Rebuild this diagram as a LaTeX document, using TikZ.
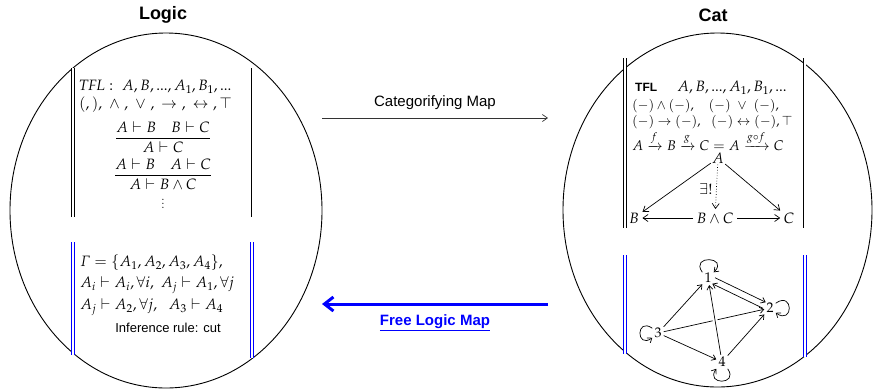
\documentclass[tikz,border=0pt]{standalone}
\usepackage{amsmath,amssymb}
\usepackage{mathpazo}
\usepackage[no-math]{fontspec}
\setsansfont{Liberation Sans}
\usetikzlibrary{positioning,arrows.meta,shapes.geometric}

\begin{document}
\begin{tikzpicture}[
  x=1pt, y=-1pt,
  font=\fontsize{15}{18}\selectfont,
  ttl/.style={font=\fontsize{18}{21}\selectfont\bfseries\sffamily, inner sep=1pt},
  lbl/.style={font=\fontsize{15}{18}\selectfont\sffamily, inner sep=1pt},
  row/.style={anchor=west, inner sep=0pt},
  sml/.style={font=\fontsize{13}{16}\selectfont},
  rim/.style={draw=black, line width=0.9pt, ellipse, inner sep=0pt},
  bar/.style={double, double distance=2pt, line width=0.7pt},
  bluebar/.style={bar, draw=blue},
  arr/.style={-{Straight Barb[length=5pt, width=7pt]}, line width=0.7pt},
  garr/.style={-{Straight Barb[length=4pt, width=6pt]}, line width=0.7pt},
  vtx/.style={font=\fontsize{14}{16}\selectfont, inner sep=2pt},
]
\useasboundingbox (0,0) rectangle (873,389);

%% ============ the two worlds ============
\node[rim, minimum width=312pt, minimum height=355pt] (lgc) at (166,210.5) {};
\node[rim, minimum width=309pt, minimum height=354pt] (cat) at (717.5,210) {};
\node[ttl] (tlgc) at (163,15) {Logic};
\node[ttl] (tcat) at (713,15) {Cat};

%% ============ Logic: language and rules ============
\draw[bar] (73,68) -- (73,217);
\draw[bar] (252.5,68) -- (252.5,217);
\node[row] (l1) at (79,87) {$\mathit{TFL}:\ A, B,..., A_1, B_1,...$};
\node[row, below=3pt of l1.south west, anchor=north west] (l2) {$(,),\ \wedge\ ,\ \vee\ ,\ \rightarrow\ ,\ \leftrightarrow\ ,\top$};
\node[inner sep=0pt] (l3) at (163,137) {$\dfrac{A\vdash B\quad B\vdash C}{A\vdash C}$};
\node[inner sep=0pt] (l4) at (163,174) {$\dfrac{A\vdash B\quad A\vdash C}{A\vdash B\wedge C}$};
\node[inner sep=0pt] (l5) at (163,201) {$\vdots$};

%% ============ Logic: a theory ============
\draw[bluebar] (73,242) -- (73,355);
\draw[bluebar] (252,242) -- (252,358);
\node[row] (g1) at (80,263) {$\varGamma = \{A_1, A_2, A_3, A_4\},$};
\node[row] (g2) at (80,285) {$A_i\vdash A_i, \forall i,\ A_j\vdash A_1, \forall j$};
\node[row] (g3) at (80,307) {$A_j\vdash A_2, \forall j,\ \ A_3\vdash A_4$};
\node[font=\fontsize{13}{15}\selectfont\sffamily] (g4) at (168,328) {Inference rule: cut};

%% ============ Cat: objects and arrows ============
\draw[bar] (625,58) -- (625,228);
\draw[bar] (804.5,58) -- (804.5,228);
\node[row] (c1) at (635,88) {{\fontsize{12}{14}\selectfont\sffamily\bfseries TFL}\hspace{20pt}$A, B,..., A_1, B_1,...$};
\node[row, sml] (c2) at (632,106) {$(-)\wedge(-),\ \ \ (-)\ \vee\ (-),$};
\node[row, sml] (c3) at (632,122) {$(-)\rightarrow(-),\ \ (-)\leftrightarrow(-),\top$};
\node[row, font=\fontsize{14}{16}\selectfont] (c4) at (632,141) {$A\xrightarrow{f}B\xrightarrow{g}C = A\xrightarrow{g\circ f}C$};
\node[inner sep=1pt] (da) at (718,158) {$A$};
\node (db) at (634,218) {$B$};
\node (dbc) at (715,218) {$B\wedge C$};
\node (dc) at (789,218) {$C$};
\draw[arr] (da) -- (db);
\draw[arr] (da) -- (dc);
\draw[arr] (dbc) -- (db);
\draw[arr] (dbc) -- (dc);
\draw[arr, dotted] (da) -- node[left=0pt, pos=0.55] {$\exists!$} (dbc);

%% ============ Cat: free category of the theory ============
\draw[bluebar] (625,255) -- (625,354);
\draw[bluebar] (805,255) -- (805,357);
\node[vtx] (n1) at (708,278) {$1$};
\node[vtx] (n2) at (770,308) {$2$};
\node[vtx] (n3) at (658,333) {$3$};
\node[vtx] (n4) at (722,362) {$4$};
\draw[garr] (n3) -- (n2);
\draw[garr, preaction={draw=white, line width=5pt}] (n4) -- (n1);
\draw[garr] (n3) -- (n1);
\draw[garr] (n3) -- (n4);
\draw[garr] (n4) -- (n2);
\draw[garr, transform canvas={xshift=1.4pt, yshift=3pt}] (n1) -- (n2);
\draw[garr, transform canvas={xshift=-1.4pt, yshift=-3pt}] (n2) -- (n1);
% self loops
\draw[garr] (n1.135) .. controls +(125:22pt) and +(45:22pt) .. (n1.45);
\draw[garr] (n2.40) .. controls +(35:22pt) and +(-35:22pt) .. (n2.-40);
\draw[garr] (n3.140) .. controls +(145:20pt) and +(215:20pt) .. (n3.220);
\draw[garr] (n4.-50) .. controls +(-55:20pt) and +(-125:20pt) .. (n4.-130);

%% ============ maps between the worlds ============
\coordinate (cm-a) at (322,118);
\coordinate (cm-b) at (548,118);
\coordinate (fl-a) at (548,304);
\coordinate (fl-b) at (322,304);
\draw[arr, draw=black!80] (cm-a) -- node[lbl, above=7pt] (cml) {Categorifying Map} (cm-b);
\draw[draw=blue, line width=3pt, -{Straight Barb[length=9pt, width=14pt]}] (fl-a) -- node[lbl, below=8pt, font=\fontsize{15}{18}\selectfont\bfseries\sffamily, text=blue] (fll) {\underline{Free Logic Map}} (fl-b);

\end{tikzpicture}
\end{document}
